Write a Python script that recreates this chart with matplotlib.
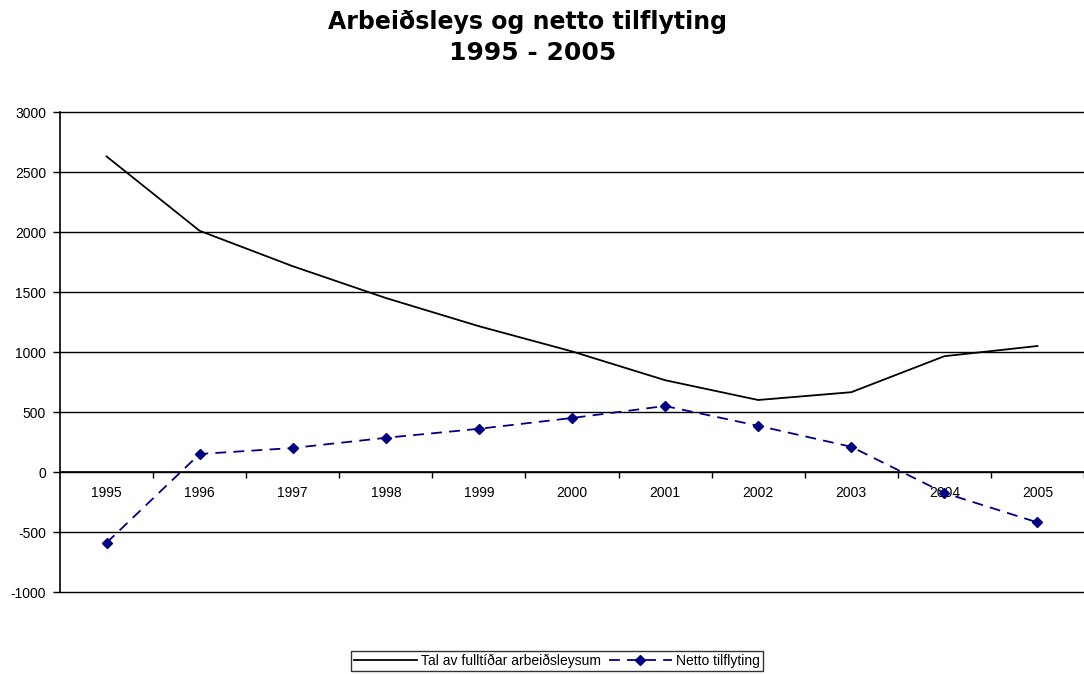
import matplotlib
matplotlib.use("Agg")
import matplotlib.pyplot as plt
from matplotlib.ticker import FixedLocator, NullFormatter, FixedFormatter

years = ["1995", "1996", "1997", "1998", "1999", "2000", "2001", "2002", "2003", "2004", "2005"]
arbeidsleysi = [2630, 2010, 1715, 1450, 1215, 1005, 765, 600, 665, 965, 1050]
tilflyting = [-590, 150, 200, 285, 360, 450, 550, 385, 210, -175, -420]
yticks = [-1000, -500, 0, 500, 1000, 1500, 2000, 2500, 3000]
label1 = "Tal av fulltíðar arbeiðsleysum"
label2 = "Netto tilflyting"

plt.rcParams['font.family'] = ['Liberation Sans', 'DejaVu Sans']

W, H = 1084, 674
fig = plt.figure(figsize=(W / 100, H / 100), dpi=100)
ax = fig.add_axes([60 / W, (H - 592) / H, 1 - 60 / W, (592 - 112) / H])

x = list(range(len(years)))
ax.plot(x, arbeidsleysi, color="black", lw=1.3, label=label1, zorder=3)
ax.plot(x, tilflyting, color="#000080", lw=1.3, ls=(0, (6, 4)), marker="D",
        markersize=5.5, label=label2, zorder=3)

ax.set_xlim(-0.5, len(years) - 0.5)
ax.set_ylim(-1000, 3000)
ax.set_yticks(yticks)
ax.set_yticklabels([str(v) for v in yticks])
ax.yaxis.grid(True, color="black", lw=1)
for gl in ax.yaxis.get_gridlines():
    gl.set_clip_on(False)
ax.set_axisbelow(True)

for s in ["top", "right"]:
    ax.spines[s].set_visible(False)
ax.spines["left"].set_linewidth(1.2)
ax.spines["bottom"].set_position(("data", 0))
ax.spines["bottom"].set_linewidth(1.2)

ax.xaxis.set_major_locator(FixedLocator([i + 0.5 for i in range(len(years))]))
ax.xaxis.set_major_formatter(NullFormatter())
ax.xaxis.set_minor_locator(FixedLocator(x))
ax.xaxis.set_minor_formatter(FixedFormatter(years))
ax.tick_params(axis="x", which="major", direction="out", length=4, width=1, color="black")
ax.tick_params(axis="x", which="minor", length=0, pad=10, labelsize=10)
ax.tick_params(axis="y", direction="out", length=5, width=1, labelsize=10, pad=5)

fig.text(527 / W, 1 - 22 / H, "Arbeiðsleys og netto tilflyting", ha="center", va="center",
         fontsize=17, fontweight="bold", family="DejaVu Sans")
fig.text(533 / W, 1 - 53 / H, "1995 - 2005", ha="center", va="center",
         fontsize=18, fontweight="semibold", family="DejaVu Sans")

leg = fig.legend(loc="center", bbox_to_anchor=(557 / W, 1 - 661 / H), ncol=2,
                 frameon=True, fancybox=False, fontsize=10, handlelength=4.5,
                 borderpad=0.2, columnspacing=0.6, handletextpad=0.3,
                 borderaxespad=0)
leg.get_frame().set_edgecolor("black")
leg.get_frame().set_linewidth(1)

fig.savefig("out.png", dpi=100)
